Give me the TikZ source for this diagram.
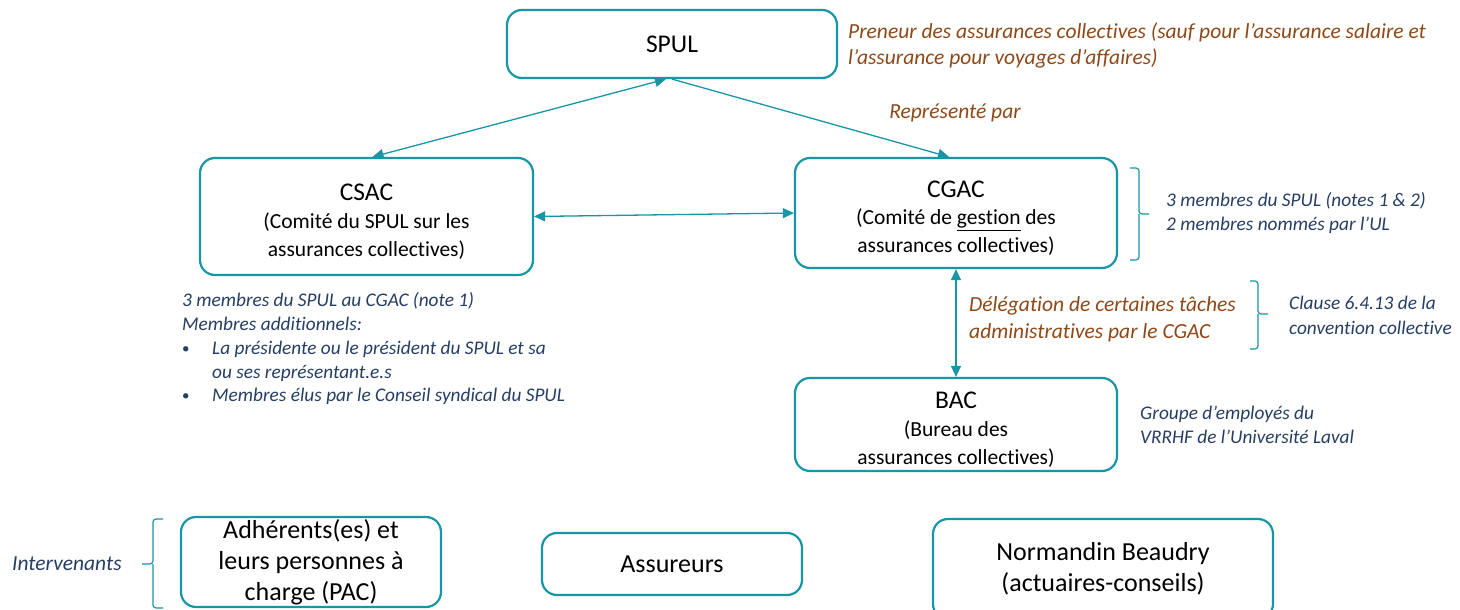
\documentclass[tikz,border=0pt]{standalone}
\usepackage{fontspec}
\setmainfont{Carlito}[Ligatures=NoCommon]
\usetikzlibrary{arrows.meta}
\definecolor{tealc}{RGB}{23,150,166}
\definecolor{brownc}{RGB}{143,72,24}
\definecolor{navyc}{RGB}{38,62,100}
\newcommand\boxtitle{\fontsize{25.5}{30}\selectfont}
\newcommand\boxsub{\fontsize{21.5}{26.5}\selectfont}
\newcommand\boxbig{\fontsize{26}{31}\selectfont}
\newcommand\brownfont{\fontsize{21.5}{26.5}\selectfont\itshape}
\newcommand\navyfont{\fontsize{19.3}{24.5}\selectfont\itshape}
\newcommand\mybullet{\makebox[30pt][l]{\raisebox{1pt}{\upshape\fontsize{15}{15}\selectfont•}}}
\newcommand\topgap{\rule{0pt}{27pt}}
\begin{document}
\begin{tikzpicture}[x=1pt,y=-1pt,
  box/.style={draw=tealc, line width=2.2pt, rounded corners=15pt, inner sep=0pt, align=center, text=black},
  conn/.style={draw=tealc, line width=1.3pt},
  arr/.style={-{Triangle[length=11pt,width=10pt]}},
  darr/.style={{Triangle[length=11pt,width=10pt]}-{Triangle[length=11pt,width=10pt]}},
  brace/.style={draw=tealc, line width=1.2pt, rounded corners=3pt},
  browntxt/.style={text=brownc, font=\brownfont, inner sep=0pt, align=left},
  navytxt/.style={text=navyc, font=\navyfont, inner sep=0pt, align=left}]
\clip (0,0) rectangle (1460,610);
\fill[white] (0,0) rectangle (1460,610);

% boxes
\node[box, minimum width=330pt, minimum height=68pt, font=\boxtitle] (spul) at (672,44) {SPUL};
\node[box, minimum width=333pt, minimum height=117pt, font=\boxsub] (csac) at (366.5,216.5)
  {\topgap{\boxtitle CSAC}\\[1pt](Comité du SPUL sur les\\[1.5pt]assurances collectives)};
\node[box, minimum width=322pt, minimum height=110pt, font=\boxsub] (cgac) at (956,213)
  {\topgap{\boxtitle CGAC}\\[1pt](Comité de \underline{gestion} des\\[1.5pt]assurances collectives)};
\node[box, minimum width=322pt, minimum height=93pt, font=\boxsub] (bac) at (956,424.5)
  {\topgap{\boxtitle BAC}\\[1pt](Bureau des\\[1.5pt]assurances collectives)};
\node[box, minimum width=260pt, minimum height=90pt, font=\boxbig] (adh) at (311,562)
  {Adhérents(es) et\\leurs personnes à\\charge (PAC)};
\node[box, minimum width=260pt, minimum height=62pt, font=\boxbig] (ass) at (672,564) {Assureurs};
\node[box, minimum width=340pt, minimum height=100pt, font=\boxbig] (nb) at (1103,569)
  {Normandin Beaudry\\(actuaires-conseils)};

% connectors
\draw[conn, darr] ([xshift=-6pt]spul.south) -- ([xshift=6pt]csac.north);
\draw[conn, arr] (spul.south) -- ([xshift=-7pt]cgac.north);
\draw[conn, darr] (csac.east) -- (cgac.west);
\draw[conn, darr] (cgac.south) -- (bac.north);

% braces
\draw[brace] (1130,168) -- (1139,168) -- (1139,214) -- (1149,214);
\draw[brace] (1139,214) -- (1139,260) -- (1130,260);
\draw[brace] (1250,281) -- (1258,281) -- (1258,314) -- (1268,314);
\draw[brace] (1258,314) -- (1258,349) -- (1250,349);
\draw[brace] (163,519) -- (153,519) -- (153,564) -- (142,564);
\draw[brace] (153,564) -- (153,608) -- (163,608);

% labels
\node[browntxt, anchor=west] (preneur) at (848,45.5)
  {Preneur des assurances collectives (sauf pour l’assurance salaire et\\l’assurance pour voyages d’affaires)};
\node[browntxt] (repr) at (955,113) {Représenté par};
\node[browntxt, anchor=west] (deleg) at (969,319.5)
  {Délégation de certaines tâches\\administratives par le CGAC};
\node[navytxt, anchor=west] (cgacnote) at (1166,213)
  {3 membres du SPUL (notes 1 \& 2)\\2 membres nommés par l’UL};
\node[navytxt, anchor=west] (clause) at (1289,315.5)
  {Clause 6.4.13 de la\\convention collective};
\node[navytxt, anchor=west] (groupe) at (1140,425)
  {Groupe d’employés du\\VRRHF de l’Université Laval};
\node[navytxt, anchor=west, font=\fontsize{19.3}{23.75}\selectfont\itshape] (csacnote) at (182,349)
  {3 membres du SPUL au CGAC (note 1)\\Membres additionnels:\\
   \mybullet La présidente ou le président du SPUL et sa\\
   \hspace*{30pt}ou ses représentant.e.s\\
   \mybullet Membres élus par le Conseil syndical du SPUL};
\node[navytxt, anchor=west, font=\fontsize{21.5}{26}\selectfont\itshape] (interv) at (12,564) {Intervenants};
\end{tikzpicture}
\end{document}
